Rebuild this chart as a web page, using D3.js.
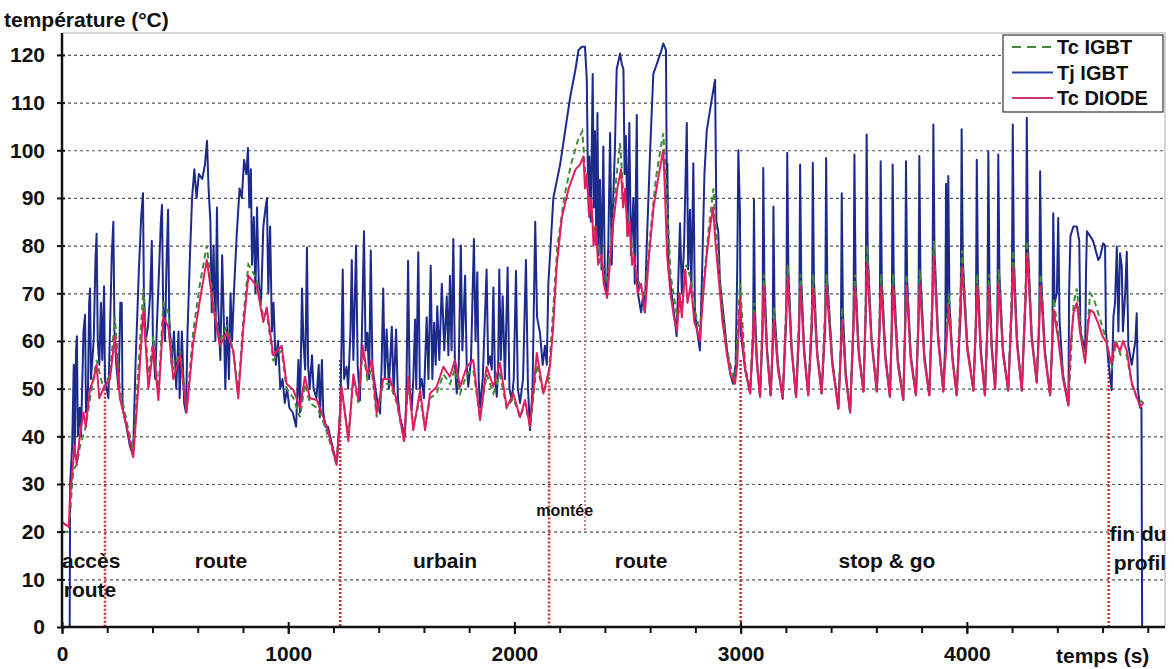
<!DOCTYPE html>
<html>
<head>
<meta charset="utf-8">
<script src="https://cdnjs.cloudflare.com/ajax/libs/d3/7.8.5/d3.min.js"></script>
<style>
  body { margin: 0; background: #fff; }
  text { font-family: "Liberation Sans", Arial, sans-serif; font-weight: bold; fill: #111; }
</style>
</head>
<body>
<div id="chart"></div>
<script>
// time (s), temperature (°C)
var tjIgbt = [
  [0,0],[34,0],[36,30],[45,38],[52,55],[56,36],[62,58],[66,61],[70,40],[78,46],[84,40],[95,62],[102,65.5],[106,45],[115,50],[120,68],[124,71],[128,52],[140,60],[148,77],[153,82.5],[158,60],[165,55],[172,68],[178,56],[186,71.5],[190,52],[205,48],[220,78],[227,85],[232,62],[240,55],[250,50],[258,68],[264,68],[268,46],[285,42],[300,38],[314,36],[325,55],[340,75],[350,86],[358,91],[362,70],[370,60],[380,63],[390,70],[397,81],[402,60],[412,52],[420,64],[430,76],[437,85],[442,88.5],[447,68],[455,60],[462,76],[469,87.5],[474,65],[485,55],[495,62],[505,50],[515,62],[520,48],[530,62],[540,47],[548,45],[555,62],[565,77],[575,90],[585,96],[595,90],[605,95],[620,94],[632,97],[641,102],[648,92],[656,85],[662,66],[670,80],[678,60],[685,88],[690,68],[700,56],[708,78],[715,65],[722,50],[730,65],[738,52],[745,70],[752,60],[760,70],[772,82],[785,92],[795,90],[805,98],[815,95],[822,100.5],[828,88],[835,96],[840,76],[848,86],[855,70],[862,88],[870,72],[880,68],[890,84],[900,88],[906,90],[912,70],[920,84],[928,62],[935,68],[945,55],[955,60],[965,50],[975,52],[985,47],[995,50],[1005,46],[1020,45],[1035,42],[1045,56],[1052,45],[1061,71],[1067,60],[1075,54],[1083,79.6],[1088,55],[1095,50],[1105,57],[1112,50],[1125,48],[1135,55],[1140,44],[1149,56],[1155,45],[1165,42],[1176,42],[1185,40],[1195,38],[1205,36],[1216,35],
  [1230,45],[1236,60],[1241,75],[1247,52],[1258,54.6],[1265,50],[1275,62],[1281,77],[1288,56],[1295,70],[1300,80],[1307,55],[1317,47.5],[1325,60],[1335,83],[1342,58],[1350,61.7],[1358,52],[1365,79],[1372,55],[1384,50.4],[1395,47],[1406,44.8],[1413,55],[1420,71],[1427,52],[1435,62.4],[1445,50],[1458,63],[1466,49],[1477,62.4],[1485,48],[1494,44],[1505,42],[1516,40],[1522,48],[1530,76.8],[1537,50],[1546,45.5],[1553,52],[1561,64.5],[1566,50],[1575,78.6],[1582,50],[1590,52],[1600,48],[1612,65],[1620,52],[1630,75.8],[1637,52],[1645,63.8],[1652,55],[1659,67.3],[1668,56],[1679,72],[1690,58],[1701,69.4],[1708,57],[1715,73.7],[1722,58],[1730,81.4],[1737,55],[1745,49],[1754,55],[1763,80],[1770,58],[1782,73.7],[1789,55],[1796,50.4],[1808,56],[1821,81.4],[1828,60],[1836,74.4],[1842,52],[1848,46],[1860,52],[1877,75],[1884,55],[1892,56.8],[1900,54],[1907,71.2],[1914,52],[1922,48.3],[1928,54],[1933,75],[1940,56],[1948,69.4],[1958,52],[1970,75.4],[1978,50],[1988,47.6],[1997,52],[2007,74.7],[2015,50],[2025,47],[2038,52],[2051,77],[2060,50],[2069,41.3],[2080,50],[2092,85],[2100,65],[2113,61.7],[2125,55],[2135,59],[2143,55],[2150,72],[2160,80],[2172,90],
  [2202,97],[2246,111],[2270,117],[2283,121],[2298,121.7],[2312,121.7],[2320,114.8],[2326,90],[2331,98.7],[2338,85],[2346,116],[2351,88],[2356,104],[2362,80],[2367,107.8],[2372,78],[2378,93.8],[2385,75],[2393,100.8],[2400,72],[2408,70],[2415,80],[2423,103.6],[2430,76],[2437,90],[2444,100],[2452,117],[2467,120.3],[2475,118],[2482,117],[2487,95],[2493,103],[2500,82],[2508,105.7],[2515,78],[2526,90],[2532,72],[2541,107.4],[2546,70],[2560,66],[2570,70],[2576,66],[2585,80],[2600,100],[2614,116],[2636,119],[2650,121],[2658,122.4],[2670,121],[2674,90],[2676,97.3],[2682,75],[2695,70],[2710,64],[2717,61],[2724,72],[2732,84.7],[2740,70],[2750,80],[2762,105.7],[2768,75],[2776,87.5],[2782,70],[2791,97.3],[2798,66],[2808,62],[2820,58],[2830,75],[2840,95],[2850,104],[2870,110],[2887,114.8],[2893,85],[2901,83],[2909,72],[2925,65],[2940,58],[2955,53],[2966,51],[2978,55],[2985,75],[2990,100],[2997,87],
  [3000,62],[3020,54],[3042,49],[3055,60],[3059,89.6],[3063,67],[3072,56],[3086,48.3],[3097,62],[3100,96.3],[3105,73],[3117,58],[3133,48.6],[3142,60],[3145,88.2],[3150,66],[3165,55],[3186,47.9],[3202,65],[3206,99.5],[3211,75],[3225,59],[3245,48.3],[3259,62],[3263,97],[3268,73],[3281,58],[3299,48.6],[3315,63],[3319,97.4],[3324,73],[3338,58],[3358,49],[3374,63],[3378,98.4],[3383,73],[3405,56],[3432,45.8],[3443,58],[3447,91],[3452,66],[3465,53],[3484,45],[3499,63],[3503,99.1],[3508,73],[3522,58],[3543,49.4],[3553,66],[3557,103.3],[3562,78],[3578,61],[3602,49.4],[3615,63],[3619,97.7],[3624,73],[3640,57],[3660,48.3],[3668,63],[3672,97],[3677,73],[3695,56],[3719,47.6],[3727,63],[3731,97.7],[3736,73],[3752,57],[3775,48.6],[3786,64],[3790,98.8],[3795,74],[3812,57],[3834,48.6],[3848,68],[3852,105.4],[3857,79],[3873,61],[3896,49.4],[3905,60],[3908,93],[3912,65],[3918,94.6],[3923,68],[3936,57],[3955,48.6],[3973,66],[3977,104.4],[3982,77],[4002,59],[4029,49.6],[4040,63],[4044,98],[4049,73],[4062,58],[4080,48.6],[4091,63],[4095,99.8],[4100,73],[4110,59],[4125,50],[4135,64],[4139,99.1],[4144,74],[4160,58],[4183,49.6],[4199,67],[4203,105.4],[4208,77],[4222,60],[4243,49.6],[4261,70],[4265,106.8],[4270,80],[4287,61],[4309,51.3],[4320,63],[4324,95.6],[4329,73],[4345,58],[4368,48.6],[4378,60],[4382,86.8],[4388,68],[4398,70],[4404,85.8],[4410,64],[4425,53],[4449,46.5],
  [4452,70],[4458,82],[4471,84],[4486,84],[4497,81],[4502,62],[4523,57.9],[4527,75],[4531,83],[4545,82],[4558,81],[4581,77],[4589,77.6],[4603,80.5],[4611,80],[4615,62],[4625,56],[4640,49.7],[4648,65],[4655,68],[4663,79.8],[4670,62],[4677,78.4],[4685,75.6],[4690,62],[4700,70],[4707,78.7],[4714,59],[4729,55],[4745,60],[4751,65.8],[4756,50],[4766,46],[4772,46],[4775,0],[4790,0]
];

var tcIgbt = [
  [0,20],[30,20],[50,33],[65,34],[80,38],[105,42],[124,48],[153,56],[183,50],[212,53],[234,65],[256,50],[286,43],[315,37],[340,56],[360,71],[382,52],[404,61],[426,49],[448,68],[470,66],[492,54],[522,58],[551,46],[580,62],[610,72],[640,80],[669,68],[698,60],[728,63],[757,58],[779,49],[802,65],[824,76],[861,73],[890,65],[905,66],[934,56],[971,58],[993,50],[1023,48],[1052,44],[1074,51],[1096,47],[1126,46],[1148,44],[1177,40],[1214,34],
  [1236,50],[1266,40],[1288,52],[1310,47],[1329,58],[1350,52],[1369,54],[1391,44],[1420,51],[1450,51],[1480,47],[1512,39],[1531,51],[1553,42],[1583,48],[1605,42],[1627,48],[1656,49],[1686,53],[1715,51],[1737,54],[1760,49],[1789,53],[1818,54],[1848,44],[1877,53],[1907,49],[1936,53],[1966,46],[1995,48],[2025,44],[2047,47],[2069,42],[2099,55],[2128,49],[2150,52],
  [2165,62],[2190,80],[2220,90],[2250,97],[2280,102],[2300,104],[2312,96],[2330,90],[2350,84],[2370,80],[2395,75],[2410,72],[2430,82],[2450,94],[2467,101.5],[2480,92],[2500,86],[2520,80],[2545,73],[2577,69],[2600,82],[2625,94],[2645,100],[2658,103.6],[2670,94],[2690,74],[2719,65],[2740,68],[2760,76],[2780,73],[2800,66],[2820,62],[2840,74],[2860,84],[2880,92],[2890,84],[2910,72],[2940,58],[2975,51],[2997,72],
  [3020,55],[3042,49],[3059,68],[3072,56],[3086,48],[3102,74],[3117,58],[3133,48.6],[3147,67],[3165,55],[3186,48],[3208,76],[3225,59],[3245,48],[3265,74],[3281,58],[3299,48.6],[3321,74],[3338,58],[3358,49],[3380,74],[3405,56],[3432,46],[3449,67],[3465,53],[3484,45],[3505,74],[3522,58],[3543,49.4],[3559,80],[3578,61],[3602,49.4],[3621,74],[3640,57],[3660,48.3],[3674,74],[3695,56],[3719,47.6],[3733,74],[3752,57],[3775,48.6],[3792,75],[3812,57],[3834,48.6],[3854,81],[3873,61],[3896,49.4],[3920,70],[3936,57],[3955,48.6],[3979,79],[4002,59],[4029,49.6],[4046,74],[4062,58],[4080,48.6],[4097,74],[4110,59],[4125,50],[4141,75],[4160,58],[4183,49.6],[4205,79],[4222,60],[4243,49.6],[4267,81],[4287,61],[4309,51.3],[4326,74],[4345,58],[4368,48.6],[4384,69],[4405,61],[4425,53],[4449,46.5],
  [4472,68],[4486,71],[4500,64],[4523,56],[4545,70],[4560,69],[4580,66],[4618,60],[4640,54],[4660,60],[4680,57],[4707,57],[4729,51],[4751,48],[4781,47]
];

var tcDiode = [
  [0,22],[30,21],[35,27],[45,32],[55,38],[65,34],[80,40.6],[95,45],[105,42],[124,50],[140,52],[153,55],[165,48],[183,50],[212,52],[234,61],[256,48],[286,42],[315,35.6],[340,52],[360,66.6],[382,50],[404,59],[426,47.6],[448,65],[470,63],[492,52],[522,57],[551,45],[580,59.6],[610,68.7],[640,77],[669,67],[698,59],[728,61.7],[757,58],[779,48],[802,63],[824,73.7],[861,71.5],[890,64],[905,67],[934,57],[971,59],[993,51],[1023,49.7],[1052,46],[1074,52.5],[1096,48],[1126,47.6],[1148,45],[1177,41],[1214,34],
  [1236,50.4],[1266,39],[1288,53],[1310,47.6],[1329,59],[1350,53],[1369,56],[1391,44.8],[1420,52],[1450,52],[1480,47.6],[1512,39],[1531,52.5],[1553,41.3],[1583,49.7],[1605,41.3],[1627,49],[1656,50.4],[1686,54.6],[1715,52.5],[1737,56],[1760,50.4],[1789,54.6],[1818,56],[1848,43.4],[1877,54.6],[1907,50.4],[1936,55.4],[1966,46],[1995,49],[2025,44],[2047,47.6],[2069,42],[2099,57.5],[2128,49],[2157,54.6],
  [2170,62],[2187,75.8],[2210,86],[2240,92],[2270,96],[2290,97],[2305,98.7],[2312,92],[2320,95],[2330,86],[2340,90],[2350,80],[2360,84],[2370,76],[2385,78],[2395,72],[2410,69],[2425,78],[2440,86],[2455,92],[2471,96],[2480,88],[2490,92],[2500,82],[2510,85],[2520,76],[2530,78],[2545,70],[2560,72],[2577,66],[2595,78],[2615,88],[2635,94],[2658,100],[2665,92],[2675,78],[2690,70],[2705,65],[2719,62],[2730,70],[2740,65],[2755,75],[2765,68],[2780,72],[2795,64],[2810,62],[2820,60],[2835,70],[2850,78],[2865,84],[2878,88],[2890,80],[2905,72],[2920,64],[2940,57],[2955,53],[2975,51],[2985,55],[2997,69],
  [3005,62],[3020,54],[3042,49],[3059,65.8],[3072,55],[3086,48.3],[3102,71.4],[3117,57],[3133,48.6],[3147,64.4],[3165,54],[3186,47.9],[3208,73.5],[3225,58],[3245,48.3],[3265,71.4],[3281,57],[3299,48.6],[3321,71],[3338,57],[3358,49],[3380,71.4],[3405,55],[3432,45.8],[3449,64.4],[3465,52],[3484,45],[3505,71.4],[3522,57],[3543,49.4],[3559,76.3],[3578,60],[3602,49.4],[3621,71.4],[3640,56],[3660,48.3],[3674,71.4],[3695,55],[3719,47.6],[3733,71.8],[3752,56],[3775,48.6],[3792,72],[3812,56],[3834,48.6],[3854,77.7],[3873,60],[3896,49.4],[3920,67.2],[3936,56],[3955,48.6],[3979,75.6],[4002,58],[4029,49.6],[4046,71.4],[4062,57],[4080,48.6],[4097,71.4],[4110,58],[4125,50],[4141,72],[4160,57],[4183,49.6],[4205,75.6],[4222,59],[4243,49.6],[4267,78.4],[4287,60],[4309,51.3],[4326,71.4],[4345,57],[4368,48.6],[4384,66.5],[4405,60],[4425,52],[4449,46.5],
  [4456,58],[4472,66],[4486,68],[4500,62],[4523,55.4],[4535,63],[4545,66.5],[4560,66],[4580,63.8],[4600,61],[4618,59.6],[4630,57],[4640,55.4],[4655,59.6],[4678,58],[4690,60],[4707,58],[4729,51.2],[4751,48.3],[4766,46.2],[4781,47]
];

// phase boundaries: time, top of the dotted marker
var phaseTimes = [190, 1230, 2153, 3000, 4627];
var phaseTops = [55, 56, 54, 56, 57.5];
var climbTime = 2312, climbTop = 82, climbBottom = 20;

var phaseLabels = [
  { text: "accès", t: 0, v: 14, anchor: "start" },
  { text: "route", t: 8, v: 7.8, anchor: "start" },
  { text: "route", t: 703, v: 14, anchor: "middle" },
  { text: "urbain", t: 1693, v: 14, anchor: "middle" },
  { text: "route", t: 2560, v: 14, anchor: "middle" },
  { text: "stop & go", t: 3647, v: 14, anchor: "middle" },
  { text: "fin du", t: 4757, v: 19.6, anchor: "middle" },
  { text: "profil", t: 4765, v: 13.6, anchor: "middle" }
];

var yTicks = [0, 10, 20, 30, 40, 50, 60, 70, 80, 90, 100, 110, 120];
var xTicks = [0, 1000, 2000, 3000, 4000];
var xMinorTicks = d3.range(0, 4801, 200);

var seriesNames = ["Tc IGBT", "Tj IGBT", "Tc DIODE"];

(function() {
  var width = 1174,
    height = 669;

  var svg = d3.select("#chart")
    .append("svg")
    .attr("width", width)
    .attr("height", height);

  var x = d3.scaleLinear().domain([0, 4876]).range([62, 1165]);
  var y = d3.scaleLinear().domain([0, 124.6]).range([627, 33]);

  // light frame on top and right
  svg.append("path")
    .attr("d", "M" + x(0) + "," + y(124.6) + "H" + x(4876) + "V" + y(0))
    .attr("fill", "none")
    .attr("stroke", "#c8c8c8")
    .attr("stroke-width", 1.5);

  // dotted horizontal grid
  svg.append("g")
    .attr("transform", "translate(" + x(0) + ",0)")
    .call(d3.axisLeft(y).tickValues(yTicks.slice(1)).tickSize(-(x(4876) - x(0))).tickFormat(""))
    .call(function(g) { g.select(".domain").remove(); })
    .selectAll("line")
    .attr("stroke", "#555")
    .attr("stroke-width", 1.2)
    .attr("stroke-dasharray", "3,3");

  // phase markers
  svg.selectAll(".phase")
    .data(phaseTimes)
    .enter().append("line")
    .attr("class", "phase")
    .attr("x1", function(d) { return x(d); })
    .attr("x2", function(d) { return x(d); })
    .attr("y1", function(d, i) { return y(phaseTops[i]); })
    .attr("y2", y(0))
    .attr("stroke", "#d42a2a")
    .attr("stroke-width", 2.5)
    .attr("stroke-dasharray", "2,2");

  svg.append("line")
    .attr("x1", x(climbTime)).attr("x2", x(climbTime))
    .attr("y1", y(climbTop)).attr("y2", y(climbBottom))
    .attr("stroke", "#c8506e")
    .attr("stroke-width", 1.5)
    .attr("stroke-dasharray", "2,2");

  var line = d3.line()
    .x(function(d) { return x(d[0]); })
    .y(function(d) { return y(d[1]); });

  svg.append("path")
    .datum(tjIgbt)
    .attr("d", line)
    .attr("fill", "none")
    .attr("stroke", "#1c2a8c")
    .attr("stroke-width", 2)
    .attr("stroke-linejoin", "round");

  svg.append("path")
    .datum(tcIgbt)
    .attr("d", line)
    .attr("fill", "none")
    .attr("stroke", "#3e8c34")
    .attr("stroke-width", 2)
    .attr("stroke-dasharray", "6,4");

  svg.append("path")
    .datum(tcDiode)
    .attr("d", line)
    .attr("fill", "none")
    .attr("stroke", "#e31b63")
    .attr("stroke-width", 2)
    .attr("stroke-linejoin", "round");

  // axes
  var yAxis = svg.append("g")
    .attr("transform", "translate(" + x(0) + ",0)")
    .call(d3.axisLeft(y).tickValues(yTicks).tickSizeInner(5).tickSizeOuter(0).tickPadding(12));
  yAxis.select(".domain")
    .attr("d", "M0," + y(0) + "V" + y(124.6))
    .attr("stroke", "#111").attr("stroke-width", 2.5);
  yAxis.selectAll(".tick line").attr("x2", -5).attr("x1", 3).attr("stroke", "#111").attr("stroke-width", 2);
  yAxis.selectAll(".tick text")
    .style("font-size", "21px")
    .style("font-weight", "bold")
    .attr("fill", "#111");

  svg.append("g")
    .attr("transform", "translate(0," + y(0) + ")")
    .call(d3.axisBottom(x).tickValues(xMinorTicks).tickSize(6).tickFormat(""))
    .call(function(g) { g.select(".domain").remove(); })
    .selectAll("line").attr("stroke", "#111").attr("stroke-width", 2);

  var xAxis = svg.append("g")
    .attr("transform", "translate(0," + y(0) + ")")
    .call(d3.axisBottom(x).tickValues(xTicks).tickFormat(d3.format("d")).tickSizeInner(7).tickSizeOuter(0).tickPadding(12));
  xAxis.select(".domain")
    .attr("d", "M" + x(0) + ",0H" + x(4876))
    .attr("stroke", "#111").attr("stroke-width", 2.5);
  xAxis.selectAll(".tick line").attr("y1", -5).attr("stroke", "#111").attr("stroke-width", 2);
  xAxis.selectAll(".tick text")
    .style("font-size", "21px")
    .style("font-weight", "bold")
    .attr("fill", "#111");

  // axis titles
  svg.append("text")
    .attr("x", 4).attr("y", 27)
    .style("font-size", "21px")
    .text("température (°C)");

  svg.append("text")
    .attr("x", 1056).attr("y", 663)
    .style("font-size", "21px")
    .text("temps (s)");

  // phase names
  svg.selectAll(".phase-label")
    .data(phaseLabels)
    .enter().append("text")
    .attr("class", "phase-label")
    .attr("x", function(d) { return x(d.t); })
    .attr("y", function(d) { return y(d.v); })
    .attr("dy", "0.35em")
    .attr("text-anchor", function(d) { return d.anchor; })
    .style("font-size", "21px")
    .text(function(d) { return d.text; });

  svg.append("text")
    .attr("x", x(2222)).attr("y", y(24.5))
    .attr("dy", "0.35em")
    .attr("text-anchor", "middle")
    .style("font-size", "16px")
    .text("montée");

  // legend
  var legend = svg.append("g").attr("transform", "translate(1003,35)");
  legend.append("rect")
    .attr("width", 160).attr("height", 77)
    .attr("fill", "#fff")
    .attr("stroke", "#333")
    .attr("stroke-width", 1.2);

  var legendStyle = [
    { color: "#3e8c34", dash: "9,6" },
    { color: "#2c44a8", dash: null },
    { color: "#d4307a", dash: null }
  ];

  var rows = legend.selectAll(".row")
    .data(seriesNames)
    .enter().append("g")
    .attr("class", "row")
    .attr("transform", function(d, i) { return "translate(0," + (12 + i * 25.5) + ")"; });

  rows.append("line")
    .attr("x1", 9).attr("x2", 50)
    .attr("stroke", function(d, i) { return legendStyle[i].color; })
    .attr("stroke-width", 2.2)
    .attr("stroke-dasharray", function(d, i) { return legendStyle[i].dash; });

  rows.append("text")
    .attr("x", 54)
    .attr("dy", "0.36em")
    .style("font-size", "20px")
    .text(function(d) { return d; });
})();
</script>
</body>
</html>
